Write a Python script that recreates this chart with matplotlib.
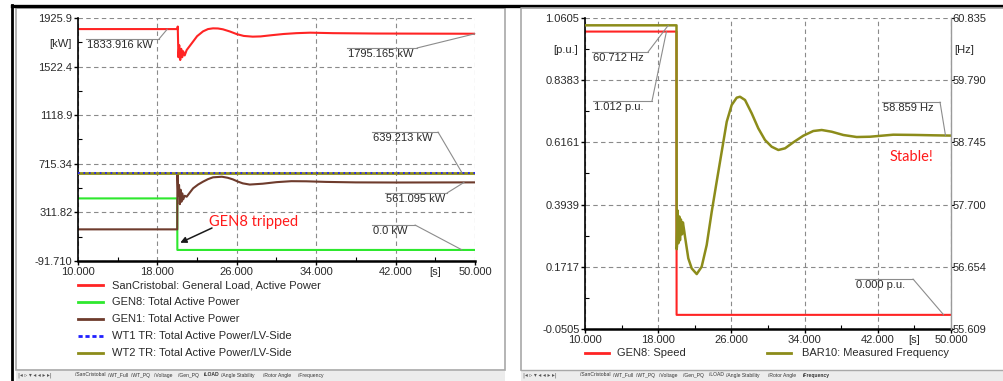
import matplotlib
matplotlib.use("Agg")
import matplotlib.pyplot as plt
from matplotlib.lines import Line2D
from matplotlib.patches import Rectangle
from matplotlib.ticker import AutoMinorLocator

plt.rcParams['font.family'] = ['Liberation Sans', 'DejaVu Sans']

W, H = 1004, 381

# shared time axis [s]
t_ticks = [10, 18, 26, 34, 42, 50]
t_labels = ["10.000", "18.000", "26.000", "34.000", "42.000", "50.000"]

# LOAD page: active power [kW]
kw_ticks = [-91.710, 311.82, 715.34, 1118.9, 1522.4, 1925.9]
kw_labels = ["-91.710", "311.82", "715.34", "1118.9", "1522.4", "1925.9"]

load_t = [10, 20.0, 20.05, 20.12, 20.2, 20.3, 20.4, 20.5, 20.6, 20.75, 20.95, 21.5, 22.0,
          22.6, 23.1, 23.6, 24.1, 24.6, 25.3, 26.0, 26.7, 27.6, 28.4, 29.5, 30.7, 32.0,
          33.4, 35.7, 40.0, 45.0, 50.0]
load_kw = [1833.916, 1833.916, 1855, 1600, 1700, 1577, 1670, 1600, 1650, 1615, 1660, 1720,
           1775, 1815, 1834, 1840, 1839, 1832, 1814, 1792, 1777, 1771, 1773, 1783, 1793,
           1800, 1804, 1800, 1797, 1796, 1795.165]

gen8_t = [10, 20.0, 20.01, 50]
gen8_kw = [428, 428, 0.0, 0.0]

gen1_t = [10, 20.0, 20.02, 20.1, 20.18, 20.26, 20.34, 20.42, 20.5, 20.6, 20.75, 20.95,
          21.3, 21.6, 22.1, 22.6, 23.1, 23.6, 24.5, 25.1, 25.6, 26.1, 26.6, 27.3, 28.6,
          30.0, 31.5, 33.0, 35.0, 38.0, 42.0, 50.0]
gen1_kw = [171, 171, 636, 450, 540, 380, 500, 400, 470, 420, 450, 442,
           480, 512, 543, 567, 588, 603, 608, 599, 586, 568, 553, 543, 550,
           563, 571, 570, 565, 561, 560, 561.095]

wt_t = [10, 50]
wt1_kw = [639.213, 639.213]
wt2_kw = [639.213, 639.213]

# Frequency page: speed [p.u.] and bus frequency [Hz]
pu_ticks = [-0.0505, 0.1717, 0.3939, 0.6161, 0.8383, 1.0605]
pu_labels = ["-0.0505", "0.1717", "0.3939", "0.6161", "0.8383", "1.0605"]
hz_ticks = [55.609, 56.654, 57.700, 58.745, 59.790, 60.835]
hz_labels = ["55.609", "56.654", "57.700", "58.745", "59.790", "60.835"]

speed_t = [10, 20.0, 20.01, 50]
speed_pu = [1.012, 1.012, 0.0, 0.0]

freq_t = [10, 20.0, 20.02, 20.05, 20.12, 20.2, 20.3, 20.38, 20.48, 20.6, 20.7, 20.85,
          20.93, 21.29, 21.66, 22.21, 22.75, 23.30, 23.85, 24.39, 24.94, 25.49, 26.03,
          26.58, 26.94, 27.49, 28.22, 28.94, 29.67, 30.40, 31.13, 31.86, 32.77, 33.86,
          34.95, 35.87, 36.96, 38.23, 39.69, 41.15, 43.69, 46.0, 48.0, 50.0]
freq_hz = [60.712, 60.712, 56.95, 57.0, 57.6, 57.05, 57.5, 57.1, 57.45, 57.2, 57.4, 57.25,
           57.159, 56.796, 56.628, 56.532, 56.655, 57.020, 57.580, 58.084, 58.588, 59.092,
           59.373, 59.496, 59.512, 59.457, 59.233, 58.981, 58.785, 58.672, 58.617, 58.645,
           58.746, 58.857, 58.936, 58.953, 58.924, 58.869, 58.835, 58.840, 58.874, 58.870,
           58.864, 58.859]

RED = '#ff2424'
GREEN = '#2ee82e'
BROWN = '#6e3b2c'
BLUE = '#2020ff'
OLIVE = '#8c8c1a'
GRID = '#8a8a8a'
TXT = '#2a2a2a'
FS = 8


def fx(x):
    return x / W


def fy(y):
    return 1 - y / H


def box(x0, y0, x1, y1):
    return [x0 / W, 1 - y1 / H, (x1 - x0) / W, (y1 - y0) / H]


fig = plt.figure(figsize=(W / 100, H / 100), dpi=100)

# window frames
fig.add_artist(Line2D([fx(12), fx(1004)], [fy(5.5), fy(5.5)], color='black', lw=2.4))
fig.add_artist(Line2D([fx(12.5), fx(12.5)], [fy(5), fy(381)], color='black', lw=2.0))
fig.add_artist(Rectangle((fx(16), fy(370)), fx(505 - 16), (370 - 8) / H, fill=False,
                         edgecolor='#a8a8a8', lw=1.2))
fig.add_artist(Line2D([fx(521), fx(521), fx(1004)], [fy(370), fy(8), fy(8)],
                      color='#a8a8a8', lw=1.2))
fig.add_artist(Line2D([fx(521), fx(1004)], [fy(370), fy(370)], color='#a8a8a8', lw=1.0))


def style_axes(ax, yticks, ylabels):
    ax.set_xlim(10, 50)
    ax.set_ylim(yticks[0], yticks[-1])
    ax.set_xticks(t_ticks)
    ax.set_xticklabels(t_labels)
    ax.set_yticks(yticks)
    ax.set_yticklabels(ylabels)
    ax.xaxis.set_minor_locator(AutoMinorLocator(2))
    ax.yaxis.set_minor_locator(AutoMinorLocator(2))
    ax.grid(True, which='major', color=GRID, lw=0.8, ls=(0, (4, 3)))
    ax.tick_params(which='major', direction='out', length=3, width=1, pad=1,
                   labelsize=FS, labelcolor=TXT)
    ax.tick_params(which='minor', direction='in', length=3, width=0.8)
    for side in ('top', 'right'):
        ax.spines[side].set_visible(False)
    ax.spines['left'].set_linewidth(1.2)
    ax.spines['bottom'].set_linewidth(1.8)
    ax.set_axisbelow(True)


def value_tag(ax, text, x0, x1, y, target):
    fig.add_artist(Line2D([fx(x0), fx(x1)], [fy(y), fy(y)], color='#8c8c8c', lw=0.8))
    fig.text(fx(x0 + 1), fy(y + 1), text, ha='left', va='top', fontsize=FS, color=TXT)
    ax.annotate('', xy=target, xycoords='data', xytext=(fx(x1), fy(y)),
                textcoords='figure fraction', annotation_clip=False,
                arrowprops=dict(arrowstyle='-', color='#8c8c8c', lw=0.8,
                                shrinkA=0, shrinkB=0))


# ---- LOAD page ----
ax1 = fig.add_axes(box(78, 18, 475, 261))
style_axes(ax1, kw_ticks, kw_labels)
ax1.plot(load_t, load_kw, color=RED, lw=1.5)
ax1.plot(gen8_t, gen8_kw, color=GREEN, lw=1.5)
ax1.plot(gen1_t, gen1_kw, color=BROWN, lw=1.5)
ax1.plot(wt_t, wt2_kw, color=OLIVE, lw=2.0, zorder=3)
ax1.plot(wt_t, wt1_kw, color=BLUE, lw=1.3, ls=(0, (1, 2)), zorder=4)

ax1.annotate('[kW]', xy=(0, 1), xycoords='axes fraction', xytext=(-18, -26),
             textcoords='offset pixels', ha='center', va='center', fontsize=FS, color=TXT)
ax1.annotate('[s]', xy=(46, 0), xycoords=ax1.get_xaxis_transform(), xytext=(0, -11),
             textcoords='offset pixels', ha='center', va='center', fontsize=FS, color=TXT)

value_tag(ax1, '1833.916 kW', 86, 159, 39, (19.0, load_kw[0]))
value_tag(ax1, '1795.165 kW', 347, 417, 48, (50, load_kw[-1]))
value_tag(ax1, '639.213 kW', 372, 438, 132, (48.7, wt1_kw[-1]))
value_tag(ax1, '561.095 kW', 385, 447, 193, (48.9, gen1_kw[-1]))
value_tag(ax1, '0.0 kW', 372, 415, 225, (48.7, gen8_kw[-1]))

fig.text(fx(209), fy(222), 'GEN8 tripped', color='#ff1a1a', fontsize=10.5,
         family=['Lato', 'DejaVu Sans'], ha='left', va='center')
ax1.annotate('', xy=(20.3, 60), xycoords='data', xytext=(fx(212), fy(228)),
             textcoords='figure fraction',
             arrowprops=dict(arrowstyle='-|>', color='#1a1a1a', lw=1.1,
                             mutation_scale=9, shrinkA=0, shrinkB=0))

left_legend = [
    ('SanCristobal: General Load, Active Power', RED, '-'),
    ('GEN8: Total Active Power', GREEN, '-'),
    ('GEN1: Total Active Power', BROWN, '-'),
    ('WT1 TR: Total Active Power/LV-Side', BLUE, (0, (1.5, 1))),
    ('WT2 TR: Total Active Power/LV-Side', OLIVE, '-'),
]
for i, (name, col, ls) in enumerate(left_legend):
    yy = 285 + 17 * i
    fig.add_artist(Line2D([fx(78), fx(103)], [fy(yy), fy(yy)], color=col, lw=2.0, ls=ls))
    fig.text(fx(112), fy(yy), name, ha='left', va='center', fontsize=FS, color=TXT)

# ---- Frequency page ----
ax2 = fig.add_axes(box(585, 18, 951, 329))
style_axes(ax2, pu_ticks, pu_labels)
ax3 = ax2.twinx()
ax3.set_ylim(hz_ticks[0], hz_ticks[-1])
ax3.set_yticks(hz_ticks)
ax3.set_yticklabels(hz_labels)
ax3.yaxis.set_minor_locator(AutoMinorLocator(2))
ax3.tick_params(which='major', direction='out', length=2, pad=-1, labelsize=FS,
                labelcolor=TXT)
ax3.tick_params(which='minor', length=0)
for side in ('top', 'left', 'bottom'):
    ax3.spines[side].set_visible(False)
ax3.spines['right'].set_color('#9a9a9a')
ax3.spines['right'].set_linewidth(1.0)

ax2.plot(speed_t, speed_pu, color=RED, lw=1.5)
ax3.plot(freq_t, freq_hz, color=OLIVE, lw=1.8)

ax2.annotate('[p.u.]', xy=(0, 1), xycoords='axes fraction', xytext=(-19, -32),
             textcoords='offset pixels', ha='center', va='center', fontsize=FS, color=TXT)
ax3.annotate('[Hz]', xy=(1, 1), xycoords='axes fraction', xytext=(13, -32),
             textcoords='offset pixels', ha='center', va='center', fontsize=FS, color=TXT)
ax2.annotate('[s]', xy=(46, 0), xycoords=ax2.get_xaxis_transform(), xytext=(0, -11),
             textcoords='offset pixels', ha='center', va='center', fontsize=FS, color=TXT)

value_tag(ax3, '60.712 Hz', 592, 648, 52, (19.1, freq_hz[0]))
value_tag(ax2, '1.012 p.u.', 593, 652, 101, (18.9, speed_pu[0]))
value_tag(ax3, '58.859 Hz', 882, 940, 102, (49.4, freq_hz[-1]))
value_tag(ax2, '0.000 p.u.', 855, 913, 279, (49.2, speed_pu[-1]))

fig.text(fx(890), fy(157), 'Stable!', color='#ff1a1a', fontsize=10.5,
         family=['Lato', 'DejaVu Sans'], ha='left', va='center')

for name, col, x_line, x_txt in [('GEN8: Speed', RED, 585, 617),
                                 ('BAR10: Measured Frequency', OLIVE, 767, 802)]:
    fig.add_artist(Line2D([fx(x_line), fx(x_line + 24)], [fy(353), fy(353)], color=col, lw=2.0))
    fig.text(fx(x_txt), fy(353), name, ha='left', va='center', fontsize=FS, color=TXT)

# ---- page tabs ----
tab_names = ['SanCristobal', 'WT_Full', 'WT_PQ', 'Voltage', 'Gen_PQ', 'LOAD',
             'Angle Stability', 'Rotor Angle', 'Frequency']
tab_x = [75, 108, 131, 154, 178, 204, 221, 263, 298]
for x_start, x_end, active, shift in [(16, 505, 'LOAD', 0), (521, 1004, 'Frequency', 505)]:
    fig.add_artist(Rectangle((fx(x_start), 0), fx(x_end - x_start), 10 / H,
                             facecolor='#ececec', edgecolor='none'))
    fig.text(fx(x_start + 2), fy(375), '|◂ ▹ ▾ ◂ ◂ ▸ ▸|', fontsize=4, color='#555',
             family=['DejaVu Sans'], ha='left', va='center')
    for name, xx in zip(tab_names, tab_x):
        fig.text(fx(xx + shift), fy(375), '/' + name, fontsize=3.6, color='#333',
                 weight='bold' if name == active else 'normal', ha='left', va='center')

fig.savefig('out.png', dpi=100)
